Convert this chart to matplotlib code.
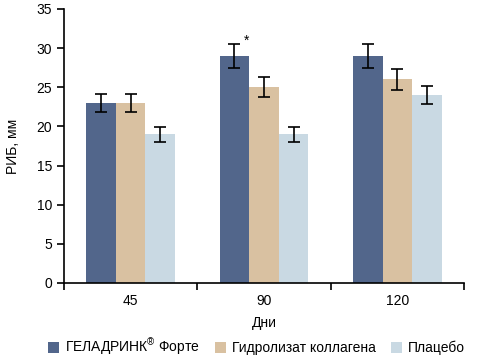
import matplotlib
matplotlib.use("Agg")
import matplotlib.pyplot as plt
import numpy as np
from matplotlib.patches import Patch

days = ["45", "90", "120"]
series = ["ГЕЛАДРИНК$^{®}$ Форте", "Гидролизат коллагена", "Плацебо"]
values = [
    [23, 29, 29],
    [23, 25, 26],
    [19, 19, 24],
]
errors = [
    [1.2, 1.5, 1.5],
    [1.2, 1.3, 1.3],
    [0.95, 0.95, 1.15],
]
colors = ["#52668B", "#D9C1A1", "#C9D9E3"]
yticks = [0, 5, 10, 15, 20, 25, 30, 35]

plt.rcParams['font.family'] = ['Liberation Sans', 'DejaVu Sans']
plt.rcParams['mathtext.fontset'] = 'custom'
plt.rcParams['mathtext.rm'] = 'Liberation Sans'
plt.rcParams['mathtext.it'] = 'Liberation Sans'

fig = plt.figure(figsize=(4.78, 3.6), dpi=100)
W, H = 478, 360
ax = fig.add_axes([64 / W, (H - 283) / H, (464 - 64) / W, (283 - 9) / H])

x = np.arange(len(days))
bw = 0.222
for i, (vals, errs, c) in enumerate(zip(values, errors, colors)):
    pos = x + (i - 1) * bw
    ax.bar(pos, vals, width=bw, color=c, edgecolor='none', zorder=2)
    ax.errorbar(pos, vals, yerr=errs, fmt='none', ecolor='black',
                elinewidth=1.2, capsize=4, capthick=1.2, zorder=3)

# significance mark
ax.text(x[1] - bw + 0.09, values[0][1] + errors[0][1] - 0.5, "*",
        ha='center', va='bottom', fontsize=10)

ax.set_xlim(-0.5, len(days) - 0.5)
ax.set_ylim(0, 35)
ax.set_yticks(yticks)
ax.set_xticks(x)
ax.set_xticklabels(days, fontsize=10)
ax.tick_params(axis='x', length=0, pad=8)
ax.set_xticks(np.arange(len(days) + 1) - 0.5, minor=True)
ax.tick_params(axis='x', which='minor', length=5, width=1.2, direction='out')
ax.tick_params(axis='y', labelsize=10, length=5, width=1.2, direction='out')
for s in ['top', 'right']:
    ax.spines[s].set_visible(False)
for s in ['left', 'bottom']:
    ax.spines[s].set_linewidth(1.2)

ax.set_xlabel("Дни", fontsize=10, labelpad=6)
ax.set_ylabel("РИБ, мм", fontsize=10, labelpad=12)

handles = [Patch(facecolor=c, edgecolor='none') for c in colors]
fig.legend(handles, series, loc='center', bbox_to_anchor=(256.5 / W, 1 - 347 / H),
           ncol=3, frameon=False, fontsize=10, handlelength=0.8,
           handleheight=0.8, handletextpad=0.4, columnspacing=1.1)

fig.savefig("out.png", dpi=100)
